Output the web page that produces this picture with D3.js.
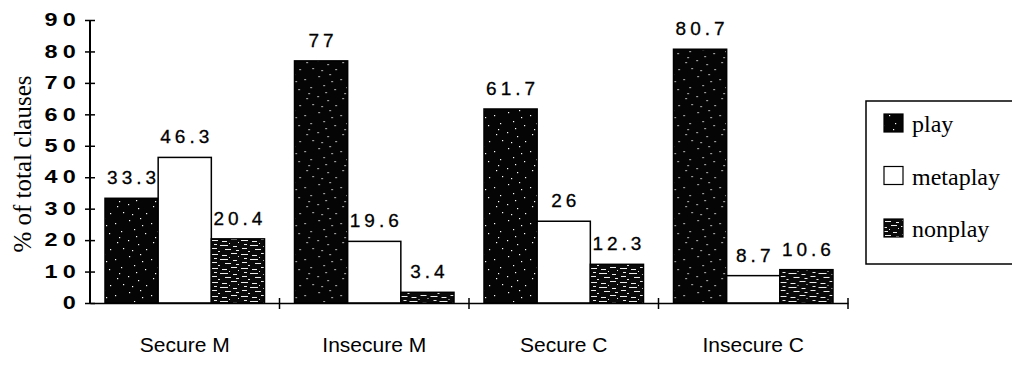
<!DOCTYPE html>
<html>
<head>
<meta charset="utf-8">
<script src="https://cdn.jsdelivr.net/npm/d3@7"></script>
<style>
  html, body { margin: 0; padding: 0; background: #fff; }
  svg { display: block; }
</style>
</head>
<body>
<svg id="chart" width="1012" height="365"></svg>
<script>
// Clause types by attachment group
const categories = ["Secure M", "Insecure M", "Secure C", "Insecure C"];
const series = ["play", "metaplay", "nonplay"];
const playValues = [33.3, 77, 61.7, 80.7];
const metaplayValues = [46.3, 19.6, 26, 8.7];
const nonplayValues = [20.4, 3.4, 12.3, 10.6];
const yTicks = [0, 10, 20, 30, 40, 50, 60, 70, 80, 90];
const yTitle = "% of total clauses";

const valuesBySeries = { play: playValues, metaplay: metaplayValues, nonplay: nonplayValues };
const rows = categories.map((c, i) => ({
  category: c,
  bars: series.map(s => ({ key: s, value: valuesBySeries[s][i] }))
}));

const svg = d3.select("#chart");
const sans = "'Liberation Sans', Arial, Helvetica, sans-serif";
const serif = "'Liberation Serif', 'Times New Roman', serif";

// Fill textures: speckled black for play, streaked black for nonplay
const defs = svg.append("defs");
const speck = defs.append("pattern").attr("id", "speckle")
  .attr("patternUnits", "userSpaceOnUse").attr("width", 36).attr("height", 36);
speck.append("rect").attr("width", 36).attr("height", 36).attr("fill", "#050505");
[[3,4],[14,2],[25,7],[31,15],[8,13],[19,17],[2,24],[12,28],[27,26],[33,32],[20,33],[6,34],[16,9],[29,21],[10,20]]
  .forEach(([x, y]) => speck.append("rect").attr("x", x).attr("y", y).attr("width", 1.2).attr("height", 1.2).attr("fill", "#fff"));

const streak = defs.append("pattern").attr("id", "streak")
  .attr("patternUnits", "userSpaceOnUse").attr("width", 30).attr("height", 14);
streak.append("rect").attr("width", 30).attr("height", 14).attr("fill", "#0a0a0a");
[[1,2,7],[12,3,5],[21,1,6],[4,6,3],[10,7,8],[23,8,4],[2,10,5],[15,11,6],[26,12,3],[8,13,2],[19,5,1],[28,4,1]]
  .forEach(([x, y, w]) => streak.append("rect").attr("x", x).attr("y", y).attr("width", w).attr("height", 1).attr("fill", "#eee"));

const fills = { play: "url(#speckle)", metaplay: "#fff", nonplay: "url(#streak)" };

// Scales
const plotLeft = 90, plotRight = 848, plotTop = 20, plotBottom = 303;
const x0 = d3.scaleBand().domain(categories).range([plotLeft, plotRight]).paddingInner(0).paddingOuter(0);
const x1 = d3.scaleBand().domain(series).range([15, x0.bandwidth() - 15]).padding(0);
const y = d3.scaleLinear().domain([0, 90]).range([plotBottom, plotTop]);

// Bars
const groups = svg.append("g").selectAll("g").data(rows).join("g")
  .attr("transform", d => `translate(${x0(d.category)},0)`);

groups.selectAll("rect").data(d => d.bars).join("rect")
  .attr("x", d => x1(d.key))
  .attr("y", d => y(d.value))
  .attr("width", x1.bandwidth())
  .attr("height", d => y(0) - y(d.value))
  .attr("fill", d => fills[d.key])
  .attr("stroke", "#000")
  .attr("stroke-width", 1.5);

// Value labels
groups.selectAll("text").data(d => d.bars).join("text")
  .attr("x", d => x1(d.key) + x1.bandwidth() / 2 + 2)
  .attr("y", d => y(d.value) - 14)
  .attr("text-anchor", "middle")
  .attr("font-family", sans)
  .attr("font-size", 19)
  .attr("letter-spacing", 4)
  .attr("fill", "#000")
  .attr("stroke", "#000").attr("stroke-width", 0.3)
  .text(d => d.value);

// Y axis (wide, heavy digits)
const yAxis = svg.append("g").attr("transform", `translate(${plotLeft},0)`)
  .call(d3.axisLeft(y).tickValues(yTicks).tickSize(5));
yAxis.select(".domain").attr("stroke", "#000").attr("stroke-width", 2).attr("d", `M0,${plotTop}V${plotBottom}`);
yAxis.selectAll(".tick line").attr("x1", 5).attr("stroke", "#000").attr("stroke-width", 1.5);
yAxis.selectAll(".tick text")
  .attr("x", 0)
  .attr("transform", "translate(-9,0) scale(1.3,1)")
  .attr("font-family", sans).attr("font-size", 18).attr("font-weight", "bold")
  .attr("letter-spacing", 4)
  .attr("fill", "#000");

// X axis: baseline with category boundary ticks
const boundaries = categories.map(c => x0(c)).concat([plotRight]);
const xAxis = svg.append("g").attr("transform", `translate(0,${plotBottom})`)
  .call(d3.axisBottom(x0).tickSize(0).tickPadding(34));
xAxis.select(".domain").attr("stroke", "#000").attr("stroke-width", 1.5);
xAxis.selectAll(".tick text")
  .attr("font-family", sans).attr("font-size", 21).attr("fill", "#000");
xAxis.selectAll("line.boundary").data(boundaries.slice(1)).join("line")
  .attr("class", "boundary")
  .attr("x1", d => d).attr("x2", d => d)
  .attr("y1", -5).attr("y2", 6)
  .attr("stroke", "#000").attr("stroke-width", 1.5);

// Y axis title
svg.append("text")
  .attr("transform", `translate(31,164) rotate(-90)`)
  .attr("text-anchor", "middle")
  .attr("font-family", serif).attr("font-size", 25)
  .attr("textLength", 177).attr("lengthAdjust", "spacing")
  .attr("fill", "#000")
  .text(yTitle);

// Legend
const legend = svg.append("g");
legend.append("rect")
  .attr("x", 866).attr("y", 101).attr("width", 150).attr("height", 163)
  .attr("fill", "#fff").attr("stroke", "#000").attr("stroke-width", 1.5);
const legendY = d3.scalePoint().domain(series).range([132, 237]);
const items = legend.selectAll("g.item").data(series).join("g").attr("class", "item");
items.append("rect")
  .attr("x", 884).attr("y", d => legendY(d) - 18)
  .attr("width", 19).attr("height", 18)
  .attr("fill", d => fills[d]).attr("stroke", "#000").attr("stroke-width", 1.2);
items.append("text")
  .attr("x", 912).attr("y", d => legendY(d))
  .attr("font-family", serif).attr("font-size", 24).attr("fill", "#000")
  .text(d => d);
</script>
</body>
</html>
